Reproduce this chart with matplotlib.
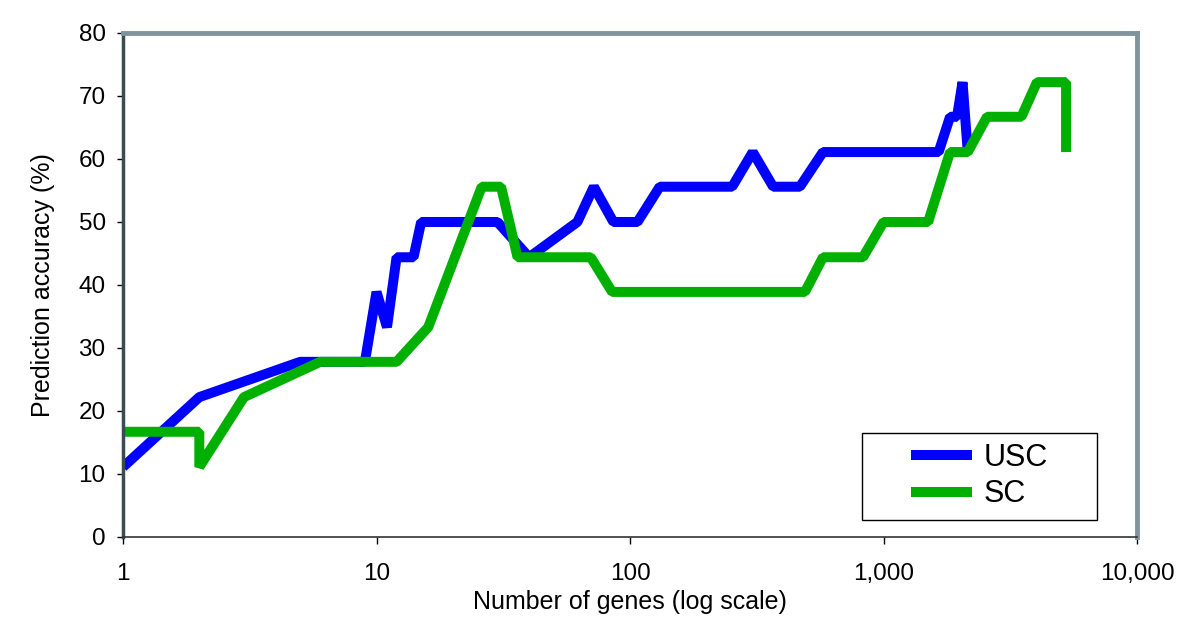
import matplotlib
matplotlib.use("Agg")
import matplotlib.pyplot as plt
from matplotlib.patches import Rectangle
from matplotlib.ticker import FixedLocator, FuncFormatter, NullLocator

plt.rcParams['font.family'] = ['Liberation Sans', 'DejaVu Sans']

# USC (blue) curve
usc_genes = [1, 2, 5, 9, 10, 11, 12, 14, 15, 30, 40, 62, 72, 86, 107, 131, 253, 305, 367, 468, 577,
             1650, 1830, 1950, 2050, 2150]
usc_acc = [11.1, 22.2, 27.8, 27.8, 38.9, 33.3, 44.4, 44.4, 50.0, 50.0, 44.4, 50.0, 55.6, 50.0, 50.0,
           55.6, 55.6, 61.1, 55.6, 55.6, 61.1, 61.1, 66.7, 66.7, 72.2, 61.1]

# SC (green) curve
sc_genes = [1, 2, 2, 3, 6, 12, 16, 26, 31, 36, 70, 85, 490, 577, 830, 1000, 1500, 1830, 2150,
            2560, 3500, 4030, 5250, 5250]
sc_acc = [16.7, 16.7, 11.1, 22.2, 27.8, 27.8, 33.3, 55.6, 55.6, 44.4, 44.4, 38.9, 38.9, 44.4, 44.4,
          50.0, 50.0, 61.1, 61.1, 66.7, 66.7, 72.2, 72.2, 61.1]

x_ticks = [1, 10, 100, 1000, 10000]
y_ticks = [0, 10, 20, 30, 40, 50, 60, 70, 80]

fig = plt.figure(figsize=(12, 6.42), dpi=100)
ax = fig.add_axes([0.1025, 0.1636, 0.845, 0.785])

ax.plot(usc_genes, usc_acc, color='#0000ff', linewidth=7.2, solid_joinstyle='bevel',
        solid_capstyle='butt', label='USC')
ax.plot(sc_genes, sc_acc, color='#00b000', linewidth=7.2, solid_joinstyle='bevel',
        solid_capstyle='butt', label='SC')

ax.set_xscale('log')
ax.set_xlim(1, 10000)
ax.set_ylim(0, 80)
ax.xaxis.set_major_locator(FixedLocator(x_ticks))
ax.xaxis.set_minor_locator(NullLocator())
ax.xaxis.set_major_formatter(FuncFormatter(lambda v, p: f"{int(round(v)):,}"))
ax.set_yticks(y_ticks)

ax.tick_params(axis='both', direction='out', labelsize=17.5, colors='black')
ax.tick_params(axis='x', length=5, width=1, pad=14)
ax.tick_params(axis='y', length=4.5, width=1, pad=8)

ax.spines['top'].set_color('#7f949c')
ax.spines['top'].set_linewidth(3.5)
ax.spines['right'].set_color('#7f949c')
ax.spines['right'].set_linewidth(3.5)
ax.spines['left'].set_color('#3c4b50')
ax.spines['left'].set_linewidth(2.5)
ax.spines['bottom'].set_color('#333333')
ax.spines['bottom'].set_linewidth(1.2)

ax.set_xlabel("Number of genes (log scale)", fontsize=18, labelpad=3)
ax.set_ylabel("Prediction accuracy (%)", fontsize=18, labelpad=17)

# legend box is wider than its contents, so draw it separately
ax.add_patch(Rectangle((0.729, 0.034), 0.232, 0.173, transform=ax.transAxes,
                       facecolor='white', edgecolor='black', linewidth=1, zorder=4))
leg = ax.legend(loc='center', bbox_to_anchor=(0.8447, 0.1205), fontsize=22, frameon=False,
                handlelength=2.0, borderpad=0, labelspacing=0.2, borderaxespad=0,
                handletextpad=0.4)
leg.set_zorder(5)

fig.savefig("out.png", dpi=100)
